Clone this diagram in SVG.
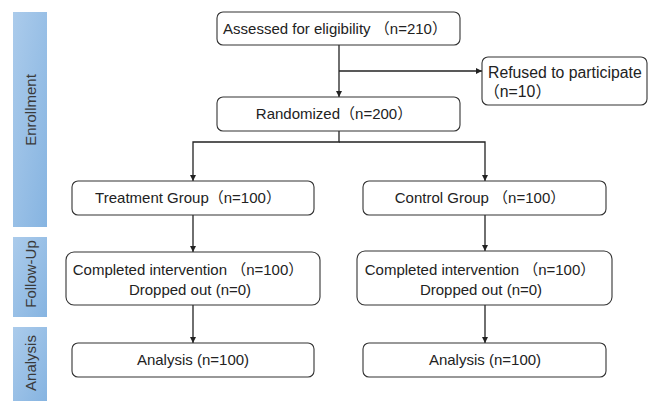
<svg xmlns="http://www.w3.org/2000/svg" width="651" height="401" viewBox="0 0 651 401">
<defs>
<linearGradient id="bar" x1="0" y1="0" x2="1" y2="1">
<stop offset="0" stop-color="#abcbeb"/>
<stop offset="1" stop-color="#86b4e1"/>
</linearGradient>
<marker id="ah" viewBox="0 0 10 10" refX="10" refY="5" markerWidth="6" markerHeight="6" markerUnits="userSpaceOnUse" orient="auto">
<path d="M0,0 L10,5 L0,10 z" fill="#222"/>
</marker>
<style>
.box{fill:#fff;stroke:#333;stroke-width:1.1}
.t{font-family:"Liberation Sans","Noto Sans CJK SC",sans-serif;font-size:15px;fill:#222}
.r{font-size:15.8px}
.m{text-anchor:middle}
.side{font-family:"Liberation Sans","Noto Sans",sans-serif;font-size:15px;fill:#3a3a3a;text-anchor:middle}
.ln{fill:none;stroke:#222;stroke-width:1.3}
</style>
</defs>
<rect width="651" height="401" fill="#fff"/>
<g id="stage-enrollment">
<rect x="13" y="12" width="34" height="215" fill="url(#bar)"/>
<text class="side" transform="translate(36,110) rotate(-90)">Enrollment</text>
</g>
<g id="stage-followup">
<rect x="13" y="237" width="34" height="80" fill="url(#bar)"/>
<text class="side" transform="translate(36,274) rotate(-90)">Follow-Up</text>
</g>
<g id="stage-analysis">
<rect x="13" y="327" width="34" height="74" fill="url(#bar)"/>
<text class="side" transform="translate(36,363) rotate(-90)">Analysis</text>
</g>
<g id="connectors">
<path class="ln" d="M339,45 V97" marker-end="url(#ah)"/>
<path class="ln" d="M339,71 H482" marker-end="url(#ah)"/>
<path class="ln" d="M339,131 V142 H193 V181" marker-end="url(#ah)"/>
<path class="ln" d="M339,142 H485 V181" marker-end="url(#ah)"/>
<path class="ln" d="M193,215 V252" marker-end="url(#ah)"/>
<path class="ln" d="M485,215 V251" marker-end="url(#ah)"/>
<path class="ln" d="M193,305 V343" marker-end="url(#ah)"/>
<path class="ln" d="M485,305 V343" marker-end="url(#ah)"/>
</g>
<g id="assessed">
<rect class="box" x="217" y="12" width="243" height="33" rx="6"/>
<text class="t m" x="335" y="34">Assessed for eligibility （n=210）</text>
</g>
<g id="refused">
<rect class="box" x="482" y="57" width="165" height="48" rx="6"/>
<text class="t r" x="488" y="78">Refused to participate</text>
<text class="t r" x="484" y="97">（n=10）</text>
</g>
<g id="randomized">
<rect class="box" x="217" y="97" width="243" height="34" rx="6"/>
<text class="t m" x="334" y="119">Randomized（n=200）</text>
</g>
<g id="treatment">
<rect class="box" x="72" y="181" width="242" height="34" rx="6"/>
<text class="t m" x="188" y="203">Treatment Group（n=100）</text>
</g>
<g id="control">
<rect class="box" x="363" y="181" width="243" height="34" rx="6"/>
<text class="t m" x="480" y="203">Control Group （n=100）</text>
</g>
<g id="treatment-followup">
<rect class="box" x="66" y="252" width="254" height="53" rx="8"/>
<text class="t m" x="188" y="275">Completed intervention （n=100）</text>
<text class="t m" x="190" y="295">Dropped out (n=0)</text>
</g>
<g id="control-followup">
<rect class="box" x="357" y="251" width="255" height="54" rx="8"/>
<text class="t m" x="480" y="275">Completed intervention （n=100）</text>
<text class="t m" x="481" y="295">Dropped out (n=0)</text>
</g>
<g id="treatment-analysis">
<rect class="box" x="72" y="343" width="242" height="34" rx="6"/>
<text class="t m" x="193" y="365">Analysis (n=100)</text>
</g>
<g id="control-analysis">
<rect class="box" x="363" y="343" width="243" height="34" rx="6"/>
<text class="t m" x="485" y="365">Analysis (n=100)</text>
</g>
</svg>
